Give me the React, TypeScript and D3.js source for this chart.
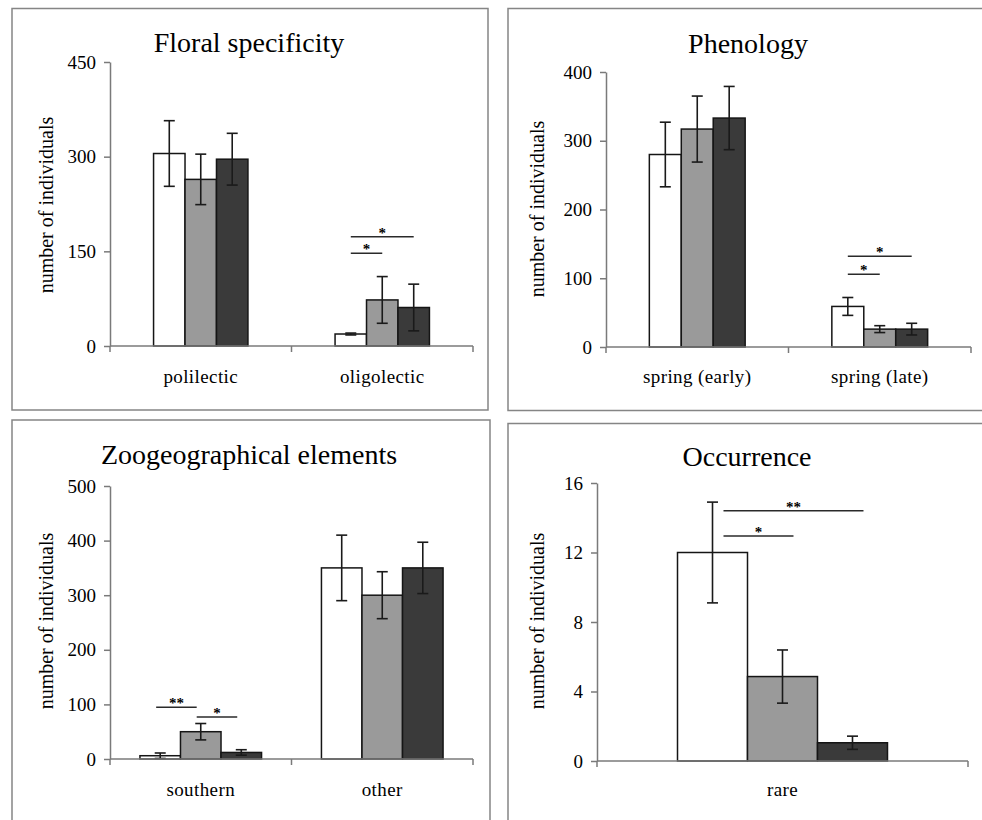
import React, { useEffect, useRef } from "react";
import * as d3 from "d3";

// three sample groups (white / grey / dark bars)
const groups = ["group1", "group2", "group3"];
const groupColors = ["#ffffff", "#9a9a9a", "#3a3a3a"];

const floralCategories = ["polilectic", "oligolectic"];
const floralMeans = [
  [305, 264, 296],
  [19, 73, 61],
];
const floralErrors = [
  [52, 40, 41],
  [1.5, 37, 37],
];
const floralTicks = [0, 150, 300, 450];
const floralSig = [
  { cat: 1, from: 0, to: 1, value: 147, label: "*" },
  { cat: 1, from: 0, to: 2, value: 173, label: "*" },
];

const phenologyCategories = ["spring (early)", "spring (late)"];
const phenologyMeans = [
  [280, 317, 333],
  [59, 26, 26],
];
const phenologyErrors = [
  [47, 48, 46],
  [13, 5, 8.5],
];
const phenologyTicks = [0, 100, 200, 300, 400];
const phenologySig = [
  { cat: 1, from: 0, to: 1, value: 106, label: "*" },
  { cat: 1, from: 0, to: 2, value: 132, label: "*" },
];

const zooCategories = ["southern", "other"];
const zooMeans = [
  [6, 50, 12],
  [350, 300, 350],
];
const zooErrors = [
  [5, 15, 5],
  [60, 43, 47],
];
const zooTicks = [0, 100, 200, 300, 400, 500];
const zooSig = [
  { cat: 0, from: 0, to: 1, value: 95, label: "**" },
  { cat: 0, from: 1, to: 2, value: 77, label: "*" },
];

const occCategories = ["rare"];
const occMeans = [[12, 4.86, 1.05]];
const occErrors = [[2.9, 1.53, 0.38]];
const occTicks = [0, 4, 8, 12, 16];
const occSig = [
  { cat: 0, from: 0, to: 1, value: 12.95, label: "*" },
  { cat: 0, from: 0, to: 2, value: 14.4, label: "**" },
];

const FONT = "'Liberation Serif', 'Times New Roman', serif";

const panels = [
  {
    title: "Floral specificity",
    categories: floralCategories,
    means: floralMeans,
    errors: floralErrors,
    ticks: floralTicks,
    sig: floralSig,
    layout: {
      frame: [12, 8.5, 476, 401.5],
      left: 110, right: 473, top: 62, bottom: 346,
      group: 0.52, sigShift: 0,
      titleX: 249, titleY: 52, labelX: 53, labelY: 205, catY: 383,
    },
  },
  {
    title: "Phenology",
    categories: phenologyCategories,
    means: phenologyMeans,
    errors: phenologyErrors,
    ticks: phenologyTicks,
    sig: phenologySig,
    layout: {
      frame: [508, 8.5, 500, 402],
      left: 606, right: 971, top: 72, bottom: 347,
      group: 0.525, sigShift: 0,
      titleX: 748, titleY: 53, labelX: 544, labelY: 209, catY: 383,
    },
  },
  {
    title: "Zoogeographical elements",
    categories: zooCategories,
    means: zooMeans,
    errors: zooErrors,
    ticks: zooTicks,
    sig: zooSig,
    layout: {
      frame: [12, 420, 478, 420],
      left: 110, right: 473, top: 486, bottom: 759,
      group: 0.67, sigShift: -0.1,
      titleX: 249, titleY: 464, labelX: 53, labelY: 621, catY: 796,
    },
  },
  {
    title: "Occurrence",
    categories: occCategories,
    means: occMeans,
    errors: occErrors,
    ticks: occTicks,
    sig: occSig,
    layout: {
      frame: [508, 423.5, 500, 420],
      left: 597, right: 968, top: 483, bottom: 761,
      group: 0.566, sigShift: 0.157,
      titleX: 747, titleY: 466, labelX: 544, labelY: 621, catY: 796,
    },
  },
];

function drawPanel(svg: any, p: any) {
  const L = p.layout;
  const g = svg.append("g");

  g.append("rect")
    .attr("x", L.frame[0])
    .attr("y", L.frame[1])
    .attr("width", L.frame[2])
    .attr("height", L.frame[3])
    .attr("fill", "#fff")
    .attr("stroke", "#858585")
    .attr("stroke-width", 1.5);

  const y = d3
    .scaleLinear()
    .domain([0, p.ticks[p.ticks.length - 1]])
    .range([L.bottom, L.top]);

  const x0 = d3.scaleBand().domain(p.categories).range([L.left, L.right]);
  const groupW = x0.bandwidth() * L.group;
  const x1 = d3.scaleBand().domain(groups).range([0, groupW]);
  const barX = (ci: number, si: number) =>
    (x0(p.categories[ci]) as number) +
    (x0.bandwidth() - groupW) / 2 +
    (x1(groups[si]) as number);
  const barMid = (ci: number, si: number) => barX(ci, si) + x1.bandwidth() / 2;

  // bars
  p.categories.forEach((cat: string, ci: number) => {
    groups.forEach((grp, si) => {
      const v = p.means[ci][si];
      g.append("rect")
        .attr("x", barX(ci, si))
        .attr("y", y(v))
        .attr("width", x1.bandwidth())
        .attr("height", y(0) - y(v))
        .attr("fill", groupColors[si])
        .attr("stroke", "#151515")
        .attr("stroke-width", 1.5);
    });
  });

  // error bars
  const cap = 5.5;
  p.categories.forEach((cat: string, ci: number) => {
    groups.forEach((grp, si) => {
      const m = p.means[ci][si];
      const e = p.errors[ci][si];
      const cx = barMid(ci, si);
      const eb = g.append("g").attr("stroke", "#1a1a1a").attr("stroke-width", 1.6);
      eb.append("line").attr("x1", cx).attr("x2", cx).attr("y1", y(m - e)).attr("y2", y(m + e));
      eb.append("line").attr("x1", cx - cap).attr("x2", cx + cap).attr("y1", y(m - e)).attr("y2", y(m - e));
      eb.append("line").attr("x1", cx - cap).attr("x2", cx + cap).attr("y1", y(m + e)).attr("y2", y(m + e));
    });
  });

  // y axis
  const yAxis = g
    .append("g")
    .attr("transform", `translate(${L.left},0)`)
    .call(d3.axisLeft(y).tickValues(p.ticks).tickSize(6).tickSizeOuter(0).tickPadding(8));
  yAxis.select(".domain").attr("stroke", "#7a7a7a").attr("stroke-width", 1.5);
  yAxis.selectAll(".tick line").attr("stroke", "#7a7a7a").attr("stroke-width", 1.5);
  yAxis
    .selectAll(".tick text")
    .attr("fill", "#000")
    .style("font-family", FONT)
    .style("font-size", "19px");

  // x axis
  const xa = g.append("g").attr("stroke", "#7a7a7a").attr("stroke-width", 1.5);
  xa.append("line").attr("x1", L.left).attr("x2", L.right).attr("y1", L.bottom).attr("y2", L.bottom);
  const bounds = p.categories.map((c: string) => x0(c) as number).concat([L.right]);
  bounds.forEach((bx: number) => {
    xa.append("line").attr("x1", bx).attr("x2", bx).attr("y1", L.bottom).attr("y2", L.bottom + 6);
  });

  // significance brackets
  p.sig.forEach((s: any) => {
    const shift = L.sigShift * x1.bandwidth();
    const xa1 = barMid(s.cat, s.from) + shift;
    const xa2 = barMid(s.cat, s.to) + shift;
    const yy = y(s.value);
    g.append("line")
      .attr("x1", xa1)
      .attr("x2", xa2)
      .attr("y1", yy)
      .attr("y2", yy)
      .attr("stroke", "#2a2a2a")
      .attr("stroke-width", 1.5);
    g.append("text")
      .attr("x", (xa1 + xa2) / 2)
      .attr("y", yy + 1)
      .attr("text-anchor", "middle")
      .style("font-family", FONT)
      .style("font-weight", "bold")
      .style("font-size", "15px")
      .attr("fill", "#000")
      .text(s.label);
  });

  // category labels
  p.categories.forEach((cat: string) => {
    g.append("text")
      .attr("x", (x0(cat) as number) + x0.bandwidth() / 2)
      .attr("y", L.catY)
      .attr("text-anchor", "middle")
      .style("font-family", FONT)
      .style("font-size", "19px")
      .style("letter-spacing", "0.4px")
      .attr("fill", "#000")
      .text(cat);
  });

  // title
  g.append("text")
    .attr("x", L.titleX)
    .attr("y", L.titleY)
    .attr("text-anchor", "middle")
    .style("font-family", FONT)
    .style("font-size", "28px")
    .attr("fill", "#000")
    .text(p.title);

  // y label
  g.append("text")
    .attr("transform", `translate(${L.labelX},${L.labelY}) rotate(-90)`)
    .attr("text-anchor", "middle")
    .style("font-family", FONT)
    .style("font-size", "20px")
    .attr("fill", "#000")
    .text("number of individuals");
}

const App = () => {
  const svgRef = useRef<SVGSVGElement>(null);

  useEffect(() => {
    const svg = d3.select(svgRef.current);
    svg.selectAll("*").remove();
    svg.append("rect").attr("width", 982).attr("height", 820).attr("fill", "#fff");
    panels.forEach((p) => drawPanel(svg, p));
  }, []);

  return (
    <svg
      ref={svgRef}
      width={982}
      height={820}
      style={{ position: "absolute", left: 0, top: 0 }}
    ></svg>
  );
};

export default App;
